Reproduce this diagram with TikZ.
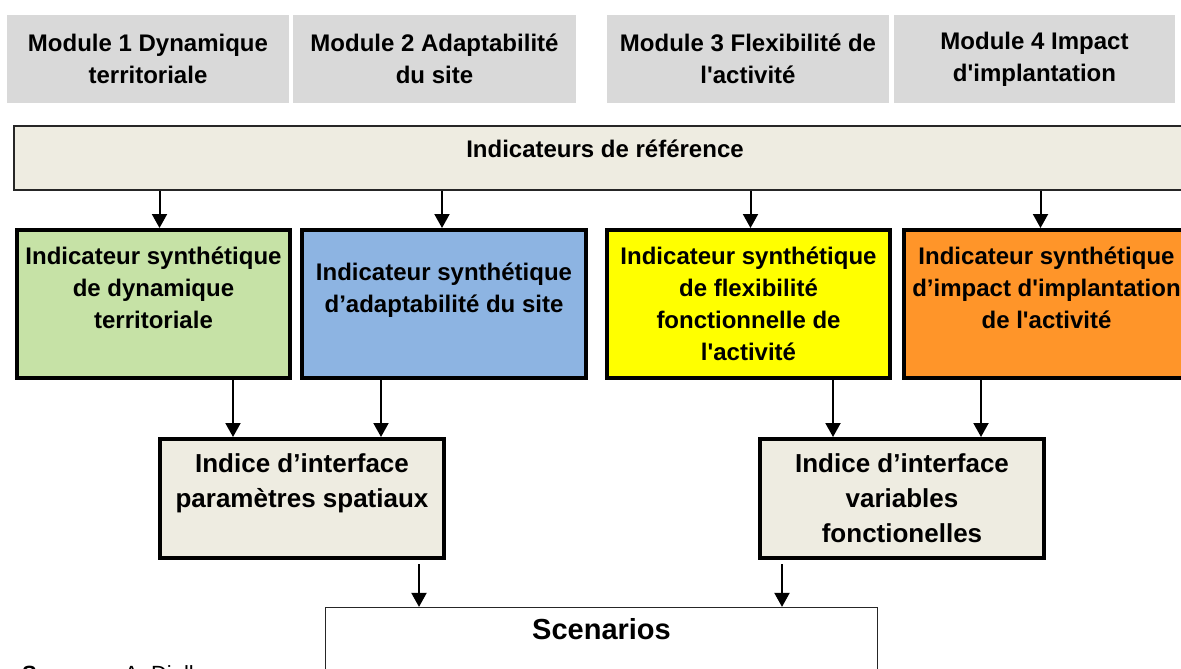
\documentclass[tikz,border=0pt]{standalone}
\usepackage{fontspec}
\setmainfont{Liberation Sans}[Ligatures=TeXOff]
\usetikzlibrary{arrows.meta, positioning}

\definecolor{modgray}{HTML}{D9D9D9}
\definecolor{refbeige}{HTML}{EEECE1}
\definecolor{dyngreen}{HTML}{C6E2A6}
\definecolor{adablue}{HTML}{8DB4E2}
\definecolor{flexyellow}{HTML}{FFFF00}
\definecolor{impactorange}{HTML}{FF9529}

\begin{document}
\begin{tikzpicture}[
        x=1pt, y=-1pt,
        module/.style={fill=modgray, minimum width=282pt, minimum height=88pt, inner sep=0pt, align=center, font=\fontsize{24}{32}\selectfont\bfseries},
        refbox/.style={draw=black!85, line width=1.4pt, fill=refbeige, minimum width=1182pt, minimum height=64pt, text depth=19pt, font=\fontsize{24}{32}\selectfont\bfseries},
        synth/.style={draw, line width=4pt, minimum width=284pt, minimum height=148pt, inner sep=0pt, align=center, font=\fontsize{24}{32}\selectfont\bfseries},
        indice/.style={draw, line width=4pt, fill=refbeige, minimum width=284pt, minimum height=119pt, inner sep=0pt, align=center, font=\fontsize{26}{35}\selectfont\bfseries},
        scenbox/.style={draw=black!85, line width=1.2pt, fill=white, minimum width=552pt, minimum height=120pt, text depth=78pt, font=\fontsize{29}{35}\selectfont\bfseries},
        arrow/.style={-{Triangle[width=15pt, length=14pt]}, line width=2pt}
    ]
        \clip (0,0) rectangle (1181,669);

        % Modules
        \node[module] (mod1) at (148,59) {Module 1 Dynamique\\territoriale};
        \node[module, minimum width=283pt] (mod2) at (434.5,59) {Module 2 Adaptabilité\\du site};
        \node[module] (mod3) at (748,59) {Module 3 Flexibilité de\\l'activité};
        \node[module, minimum width=281pt] (mod4) at (1034.5,59) {Module 4 Impact\\d'implantation};

        % Indicateurs de reference
        \node[refbox] (ref) at (605,158) {Indicateurs de référence};

        % Indicateurs synthetiques
        \node[synth, fill=dyngreen, minimum width=273pt] (dyn) at (153.5,304) {Indicateur synthétique\\de dynamique\\territoriale\\~};
        \node[synth, fill=adablue] (ada) at (444,304) {Indicateur synthétique\\d’adaptabilité du site\\~};
        \node[synth, fill=flexyellow, minimum width=283pt] (flex) at (748.5,304) {Indicateur synthétique\\de flexibilité\\fonctionnelle de\\l'activité};
        \node[synth, fill=impactorange, minimum width=285pt] (imp) at (1046.5,304) {Indicateur synthétique\\d’impact d'implantation\\de l'activité\\~};

        % Indices d'interface
        \node[indice] (spat) at (302,498.5) {Indice d’interface\\paramètres spatiaux\\~};
        \node[indice] (fonc) at (902,498.5) {Indice d’interface\\variables\\fonctionelles};

        % Scenarios
        \node[scenbox] (scen) at (601.5,667.5) {Scenarios};

        % Source (coupee en bas)
        \node[anchor=north west, inner sep=0pt, font=\fontsize{22}{26}\selectfont] (src) at (22,665) {\textbf{Source :}\hspace{14pt}A. Diallo};

        % Liaisons
        \draw[arrow] ([xshift=6pt]dyn.north |- ref.south) -- ([xshift=6pt]dyn.north);
        \draw[arrow] ([xshift=-2pt]ada.north |- ref.south) -- ([xshift=-2pt]ada.north);
        \draw[arrow] ([xshift=2pt]flex.north |- ref.south) -- ([xshift=2pt]flex.north);
        \draw[arrow] ([xshift=-6pt]imp.north |- ref.south) -- ([xshift=-6pt]imp.north);

        \draw[arrow] ([xshift=-69pt]spat.north |- dyn.south) -- ([xshift=-69pt]spat.north);
        \draw[arrow] ([xshift=79pt]spat.north |- ada.south) -- ([xshift=79pt]spat.north);
        \draw[arrow] ([xshift=-69pt]fonc.north |- flex.south) -- ([xshift=-69pt]fonc.north);
        \draw[arrow] ([xshift=79pt]fonc.north |- imp.south) -- ([xshift=79pt]fonc.north);

        \draw[arrow] ([xshift=117pt, yshift=-4pt]spat.south) -- ([xshift=117pt]spat.south |- scen.north);
        \draw[arrow] ([xshift=-120pt, yshift=-4pt]fonc.south) -- ([xshift=-120pt]fonc.south |- scen.north);
    \end{tikzpicture}
\end{document}
